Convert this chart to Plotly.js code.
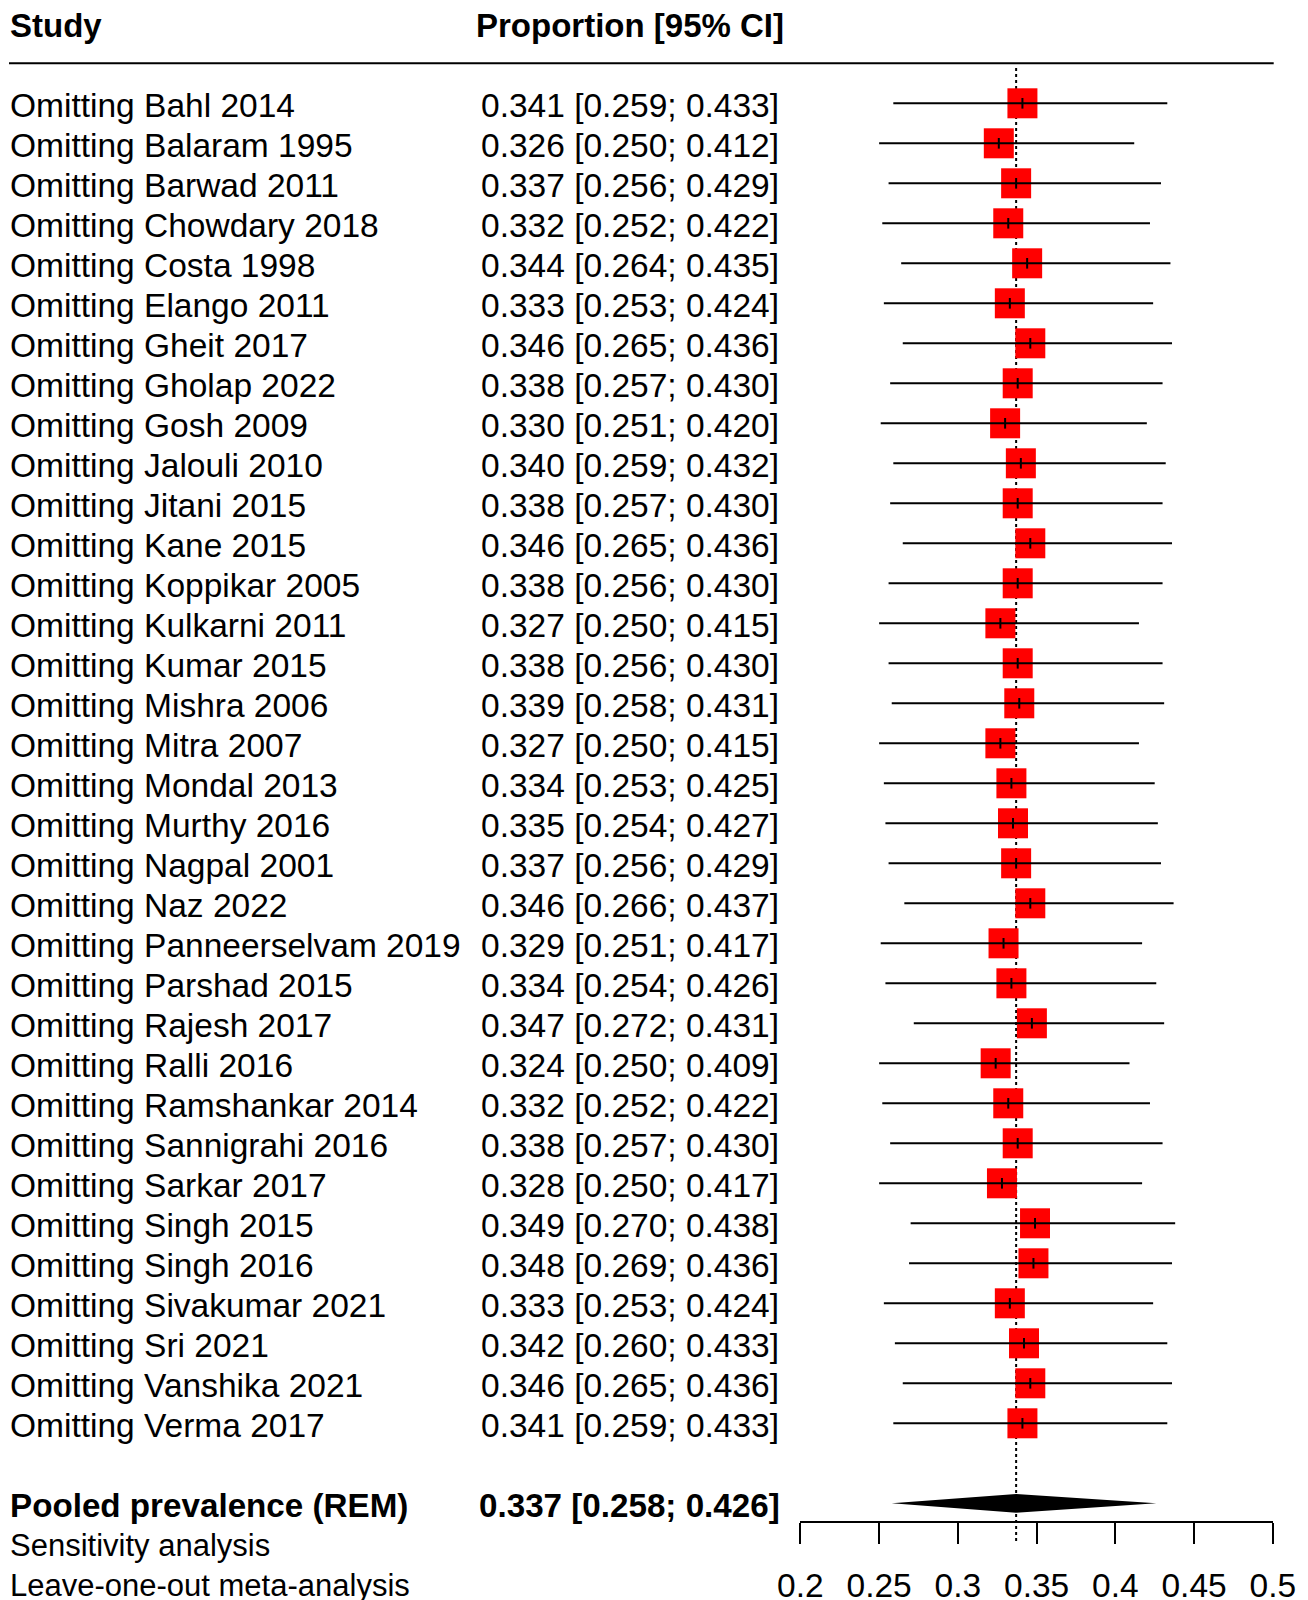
<!DOCTYPE html>
<html>
<head>
<meta charset="utf-8">
<script src="https://cdn.plot.ly/plotly-3.0.1.min.js"></script>
<style>html,body{margin:0;padding:0;background:#fff;}#chart{width:1308px;height:1600px;}</style>
</head>
<body>
<div id="chart"></div>
<script>
var studies = ["Omitting Bahl 2014","Omitting Balaram 1995","Omitting Barwad 2011","Omitting Chowdary 2018","Omitting Costa 1998","Omitting Elango 2011","Omitting Gheit 2017","Omitting Gholap 2022","Omitting Gosh 2009","Omitting Jalouli 2010","Omitting Jitani 2015","Omitting Kane 2015","Omitting Koppikar 2005","Omitting Kulkarni 2011","Omitting Kumar 2015","Omitting Mishra 2006","Omitting Mitra 2007","Omitting Mondal 2013","Omitting Murthy 2016","Omitting Nagpal 2001","Omitting Naz 2022","Omitting Panneerselvam 2019","Omitting Parshad 2015","Omitting Rajesh 2017","Omitting Ralli 2016","Omitting Ramshankar 2014","Omitting Sannigrahi 2016","Omitting Sarkar 2017","Omitting Singh 2015","Omitting Singh 2016","Omitting Sivakumar 2021","Omitting Sri 2021","Omitting Vanshika 2021","Omitting Verma 2017"];
var estimates = [0.341,0.326,0.337,0.332,0.344,0.333,0.346,0.338,0.330,0.340,0.338,0.346,0.338,0.327,0.338,0.339,0.327,0.334,0.335,0.337,0.346,0.329,0.334,0.347,0.324,0.332,0.338,0.328,0.349,0.348,0.333,0.342,0.346,0.341];
var lowers = [0.259,0.250,0.256,0.252,0.264,0.253,0.265,0.257,0.251,0.259,0.257,0.265,0.256,0.250,0.256,0.258,0.250,0.253,0.254,0.256,0.266,0.251,0.254,0.272,0.250,0.252,0.257,0.250,0.270,0.269,0.253,0.260,0.265,0.259];
var uppers = [0.433,0.412,0.429,0.422,0.435,0.424,0.436,0.430,0.420,0.432,0.430,0.436,0.430,0.415,0.430,0.431,0.415,0.425,0.427,0.429,0.437,0.417,0.426,0.431,0.409,0.422,0.430,0.417,0.438,0.436,0.424,0.433,0.436,0.433];
var pooledLabel = "Pooled prevalence (REM)";
var pooled = {est: 0.337, lo: 0.258, hi: 0.426};
var footerLines = ["Sensitivity analysis", "Leave-one-out meta-analysis"];
var headerStudy = "Study";
var headerCI = "Proportion [95% CI]";
var tickValues = [0.2, 0.25, 0.3, 0.35, 0.4, 0.45, 0.5];
var tickLabels = ["0.2", "0.25", "0.3", "0.35", "0.4", "0.45", "0.5"];

var W = 1308, H = 1600;
var FONT = "Liberation Sans, Arial, Helvetica, sans-serif";
var FS = 33.5, FS_FOOT = 31, FS_HEAD = 33;
var row0 = 103.3, rowH = 40;
var YS = -2;
function pxToIdx(px){ return (px - row0) / rowH; }
function fmt(v){ return v.toFixed(3); }

var idx = studies.map(function(_, i){ return i; });
var pooledIdx = 35;

var ciX = [], ciY = [];
for (var i = 0; i < studies.length; i++) {
  ciX.push(lowers[i], uppers[i], null);
  ciY.push(i, i, null);
}

var dh = 9.4 / rowH;
var traces = [
  {type:'scatter', mode:'markers', x: estimates, y: idx, cliponaxis:false,
   marker:{symbol:'square', size:30, color:'#ff0000', line:{width:0}}, hoverinfo:'skip'},
  {type:'scatter', mode:'lines', x: ciX, y: ciY, line:{color:'#000', width:2}, hoverinfo:'skip', connectgaps:false},
  {type:'scatter', mode:'markers', x: estimates, y: idx, cliponaxis:false,
   marker:{symbol:'line-ns', size:7.6, color:'#000', line:{width:2, color:'#000'}}, hoverinfo:'skip'},
  {type:'scatter', mode:'lines', fill:'toself', fillcolor:'#000',
   x:[pooled.lo, pooled.est, pooled.hi, pooled.est, pooled.lo],
   y:[pooledIdx, pooledIdx - dh, pooledIdx, pooledIdx + dh, pooledIdx],
   line:{width:0, color:'#000'}, hoverinfo:'skip'}
];

var ann = [];
var xStudy = 8 / W, xCI = 629.5 / W;
function font(sz){ return {family:FONT, size:sz, color:'#000'}; }
for (var j = 0; j < studies.length; j++) {
  ann.push({xref:'paper', yref:'y', x:xStudy, y:j, yshift:YS, xanchor:'left', yanchor:'middle', showarrow:false,
            text: studies[j], font:font(FS)});
  ann.push({xref:'paper', yref:'y', x:xCI, y:j, yshift:YS, xanchor:'center', yanchor:'middle', showarrow:false,
            text: fmt(estimates[j]) + ' [' + fmt(lowers[j]) + '; ' + fmt(uppers[j]) + ']', font:font(FS)});
}
ann.push({xref:'paper', yref:'y', x:xStudy, y:pooledIdx, yshift:YS, xanchor:'left', yanchor:'middle', showarrow:false,
          text:'<b>' + pooledLabel + '</b>', font:font(33.2)});
ann.push({xref:'paper', yref:'y', x:xCI, y:pooledIdx, yshift:YS, xanchor:'center', yanchor:'middle', showarrow:false,
          text:'<b>' + fmt(pooled.est) + ' [' + fmt(pooled.lo) + '; ' + fmt(pooled.hi) + ']</b>', font:font(33.2)});
footerLines.forEach(function(t, k){
  ann.push({xref:'paper', yref:'y', x:xStudy, y:pooledIdx + 1 + k, yshift:YS, xanchor:'left', yanchor:'middle', showarrow:false,
            text:t, font:font(FS_FOOT)});
});
ann.push({xref:'paper', yref:'paper', x:xStudy, y:1 - 25.5 / H, xanchor:'left', yanchor:'middle', showarrow:false,
          text:'<b>' + headerStudy + '</b>', font:font(FS_HEAD)});
ann.push({xref:'paper', yref:'paper', x:xCI, y:1 - 25.5 / H, xanchor:'center', yanchor:'middle', showarrow:false,
          text:'<b>' + headerCI + '</b>', font:font(FS_HEAD)});

var layout = {
  width: W, height: H,
  margin:{l:0, r:0, t:0, b:0, pad:0},
  paper_bgcolor:'#fff', plot_bgcolor:'#fff',
  showlegend:false,
  xaxis:{domain:[800.4 / W, 1272.8 / W], range:[0.2, 0.5], anchor:'free', position:(H - 1522.3) / H,
         showgrid:false, zeroline:false, showline:true, linecolor:'#000', linewidth:2,
         ticks:'outside', ticklen:21, tickwidth:2, tickcolor:'#000', ticklabelstandoff:12,
         tickvals: tickValues, ticktext: tickLabels,
         tickfont:font(FS), fixedrange:true},
  yaxis:{domain:[0, 1], range:[pxToIdx(H), pxToIdx(0)], visible:false, showgrid:false, zeroline:false, fixedrange:true},
  shapes:[
    {type:'line', layer:'below', xref:'x', yref:'paper', x0:pooled.est, x1:pooled.est,
     y0:1 - 68 / H, y1:1 - 1543 / H, line:{color:'#000', width:2, dash:'3px,3px'}},
    {type:'line', xref:'paper', yref:'paper', x0:9 / W, x1:1273.7 / W, y0:1 - 63.3 / H, y1:1 - 63.3 / H,
     line:{color:'#000', width:2}}
  ],
  annotations: ann
};
Plotly.newPlot('chart', traces, layout, {staticPlot:true, displayModeBar:false});
</script>
</body>
</html>
